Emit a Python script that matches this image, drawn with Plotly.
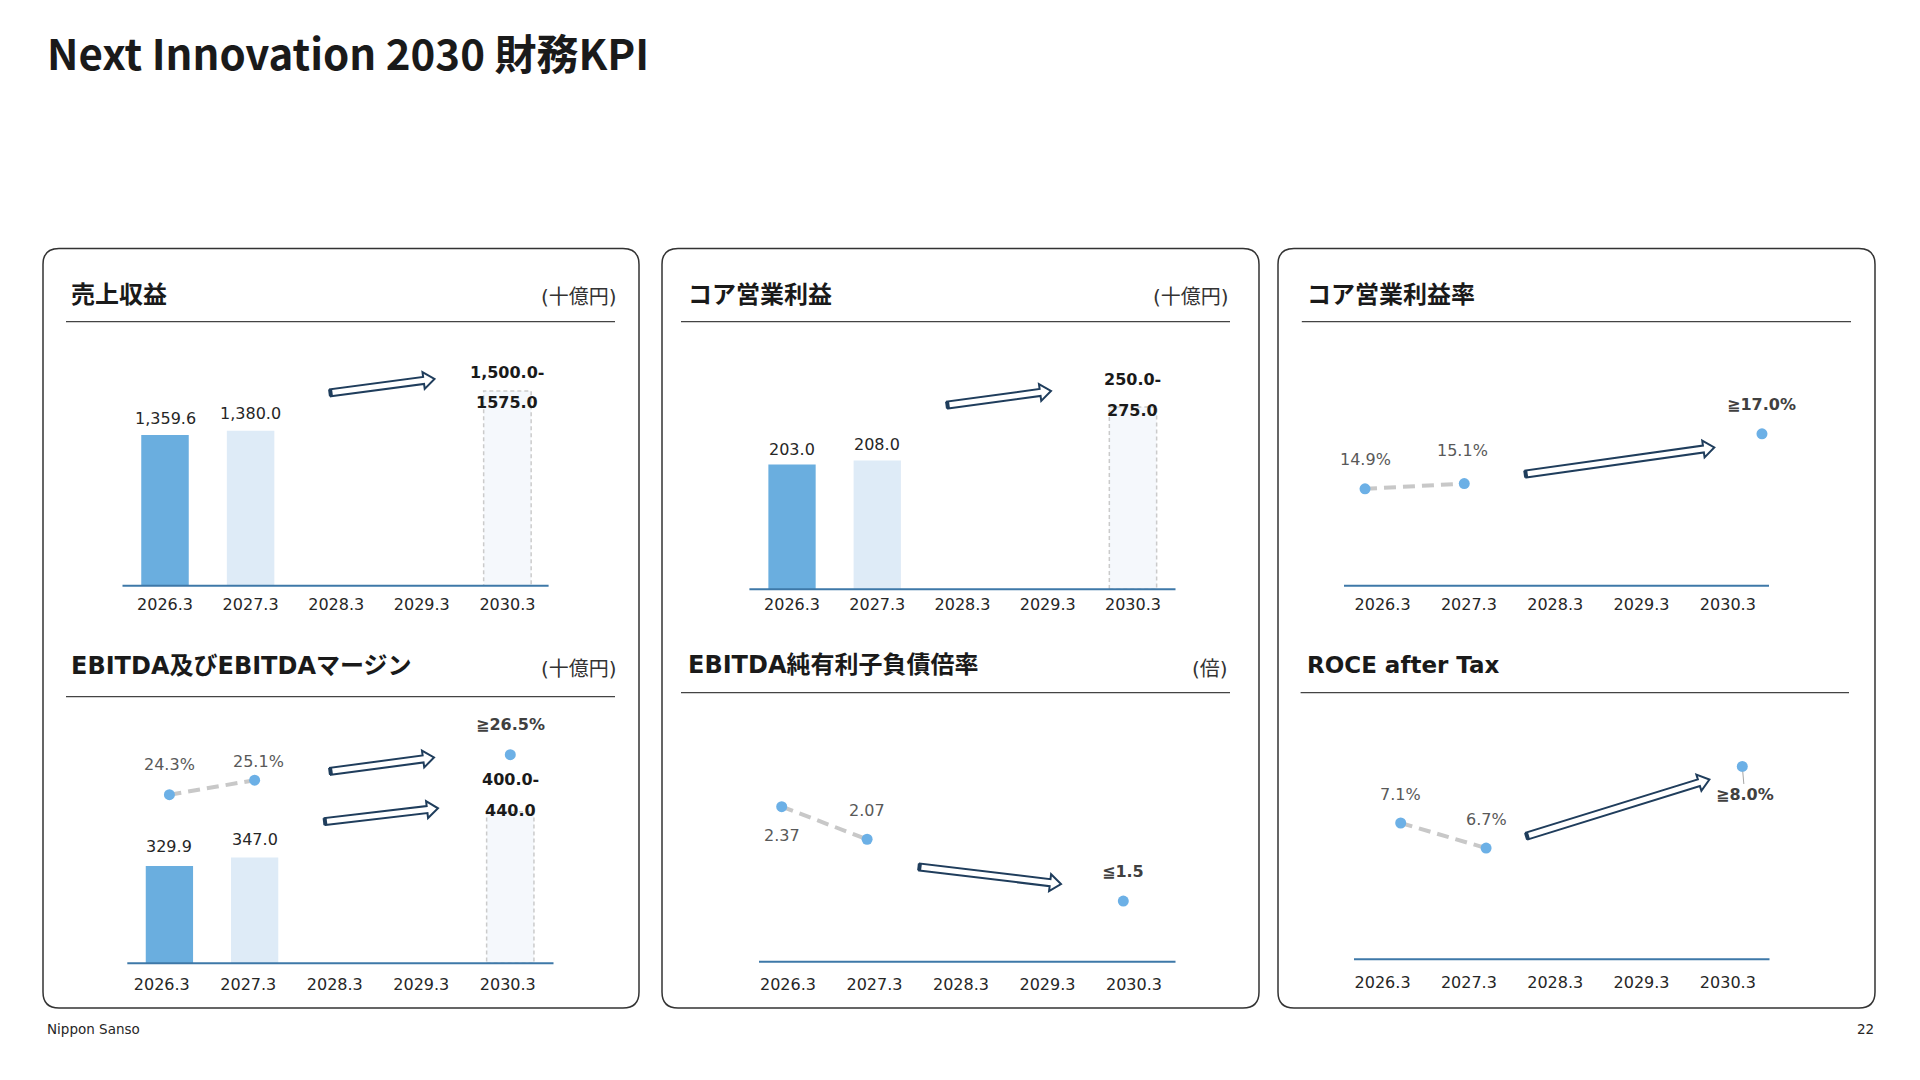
import math
import plotly.graph_objects as go

W, H = 1920, 1080

# ---------------- data ----------------
categories = ["2026.3", "2027.3", "2028.3", "2029.3", "2030.3"]

revenue = [1359.6, 1380.0, None, None, 1575.0]
revenue_target_text = ["1,500.0-", "1575.0"]

core_op_profit = [203.0, 208.0, None, None, 275.0]
core_op_target_text = ["250.0-", "275.0"]

ebitda = [329.9, 347.0, None, None, 440.0]
ebitda_target_text = ["400.0-", "440.0"]
ebitda_margin = [24.3, 25.1, None, None, 26.5]

net_debt_ratio = [2.37, 2.07, None, None, 1.5]
core_op_margin = [14.9, 15.1, None, None, 17.0]
roce_after_tax = [7.1, 6.7, None, None, 8.0]

titles = {
    "rev": "売上収益", "op": "コア営業利益", "opm": "コア営業利益率",
    "ebitda": "EBITDA及びEBITDAマージン", "nd": "EBITDA純有利子負債倍率", "roce": "ROCE after Tax",
}
unit_bn = "(十億円)"
unit_x = "(倍)"

# ---------------- style ----------------
FONT = "DejaVu Sans, Noto Sans CJK JP, sans-serif"
BAR_ACTUAL = "#6AAEDF"
BAR_PLAN = "#DEEBF7"
BAR_TARGET = "#F5F8FC"
TARGET_EDGE = "#CBCBCB"
AXIS = "#3E78A8"
DOT = "#6CB0E6"
CONNECT = "#C8C8C8"
ARROW = "#1F3D5C"
TXT = "#262626"
TXT_GRAY = "#595959"
N = len(categories)
LAST = N - 1


def xd(a, b):
    return [a / W, b / W]


def yd(top, bottom):
    return [1 - bottom / H, 1 - top / H]


def yr(v, p, k, top, bottom):
    """range so that value v sits at pixel p with k px per unit"""
    return [v - (bottom - p) / k, v + (p - top) / k]


def P(x, y):
    return f"{x / W:.6f},{1 - y / H:.6f}"


fig = go.Figure()
layout = {}
shapes = []
anns = []


def cat_axis(dom, anchor, ticklen=9, show=True):
    return dict(domain=xd(*dom), anchor=anchor, type="category", categoryorder="array",
                categoryarray=categories, range=[-0.5, N - 0.5], showgrid=False, zeroline=False,
                showline=False, ticks="outside" if show else "", ticklen=ticklen,
                tickcolor="rgba(0,0,0,0)", showticklabels=show, visible=show,
                tickfont=dict(size=16, color=TXT, family=FONT), fixedrange=True)


def tick_axis(dom, anchor, ticklen):
    return dict(domain=xd(*dom), anchor=anchor, type="linear", range=[-0.5, N - 0.5],
                tickmode="array", tickvals=list(range(N)), ticktext=categories,
                showgrid=False, zeroline=False, showline=False, ticks="outside", ticklen=ticklen,
                tickcolor="rgba(0,0,0,0)", tickfont=dict(size=16, color=TXT, family=FONT),
                fixedrange=True)


def y_axis(top, bottom, anchor, rng):
    return dict(domain=yd(top, bottom), anchor=anchor, range=rng, visible=False, fixedrange=True)


def axis_line(x0, x1, y):
    shapes.append(dict(type="line", xref="paper", yref="paper", x0=x0 / W, x1=x1 / W,
                       y0=1 - y / H, y1=1 - y / H, line=dict(color=AXIS, width=2), layer="above"))


def label(text, i, y, xr, yrf, yshift=0, xshift=0, color=TXT, bold=False, size=16, **kw):
    # x given as category serial number (category names look numeric)
    anns.append(dict(text=f"<b>{text}</b>" if bold else text, x=i, y=y, xref=xr, yref=yrf,
                     xanchor="center", yanchor="middle", yshift=yshift, xshift=xshift,
                     showarrow=kw.pop("showarrow", False),
                     font=dict(size=size, color=color, family=FONT), **kw))


def bars(values, xa, ya, rng):
    fig.add_trace(go.Bar(x=categories, y=values, width=0.555, xaxis=xa, yaxis=ya,
                         marker=dict(color=[BAR_ACTUAL, BAR_PLAN, BAR_PLAN, BAR_PLAN, BAR_TARGET],
                                     line=dict(width=0)),
                         showlegend=False, hoverinfo="skip"))
    shapes.append(dict(type="rect", xref=xa, yref=ya, x0=LAST - 0.2775, x1=LAST + 0.2775,
                       y0=rng[0], y1=values[LAST], fillcolor="rgba(0,0,0,0)",
                       line=dict(color=TARGET_EDGE, width=1.5, dash="4px,3px"), layer="above"))


def dots(values, xa, ya):
    fig.add_trace(go.Scatter(x=categories, y=values, xaxis=xa, yaxis=ya, mode="lines+markers",
                             line=dict(color=CONNECT, width=4, dash="12px,7px"),
                             marker=dict(color=DOT, size=11, line=dict(width=0)),
                             connectgaps=False, showlegend=False, hoverinfo="skip"))


def tick_holder(xa, ya):
    # empty trace so that the tick-label subplot is drawn
    fig.add_trace(go.Scatter(x=list(range(N)), y=[None] * N, xaxis=xa, yaxis=ya, mode="markers",
                             showlegend=False, hoverinfo="skip"))


# ---------- A: revenue ----------
rngA = yr(622, 585.7, 0.2043, 340, 585.7)
layout["xaxis"] = cat_axis((122.2, 550.2), "y", ticklen=4)
layout["yaxis"] = y_axis(340, 585.7, "x", rngA)
bars(revenue, "x", "y", rngA)
axis_line(122.5, 548.6, 585.7)
for i in (0, 1):
    label(f"{revenue[i]:,.1f}", i, revenue[i], "x", "y", yshift=17)
label(revenue_target_text[0], LAST, revenue[LAST], "x", "y", yshift=19, bold=True, color="#1A1A1A")
label(revenue_target_text[1], LAST, revenue[LAST], "x", "y", yshift=-11, bold=True, color="#1A1A1A")

# ---------- B: core operating profit ----------
rngB = yr(47, 589.3, 0.8, 340, 589.3)
layout["xaxis2"] = cat_axis((749.4, 1175.6), "y2", ticklen=0.5)
layout["yaxis2"] = y_axis(340, 589.3, "x2", rngB)
bars(core_op_profit, "x2", "y2", rngB)
axis_line(749.4, 1175.5, 589.3)
for i, s in ((0, 15.5), (1, 16)):
    label(f"{core_op_profit[i]:.1f}", i, core_op_profit[i], "x2", "y2", yshift=s)
label(core_op_target_text[0], LAST, core_op_profit[LAST], "x2", "y2", yshift=27, bold=True, color="#1A1A1A")
label(core_op_target_text[1], LAST, core_op_profit[LAST], "x2", "y2", yshift=-4, bold=True, color="#1A1A1A")

# ---------- C: EBITDA & margin ----------
rngC = yr(133, 963.3, 0.494, 700, 963.3)
rngCm = yr(24.3, 794.7, 18.18, 700, 963.3)
layout["xaxis3"] = cat_axis((126.8, 552.9), "y3", show=False)
layout["yaxis3"] = y_axis(700, 963.3, "x3", rngC)
layout["yaxis4"] = dict(overlaying="y3", anchor="x3", side="right", range=rngCm, visible=False, fixedrange=True)
layout["xaxis11"] = tick_axis((118.5, 551), "y11", ticklen=6)
layout["yaxis11"] = y_axis(700, 963.3, "x11", [0, 1])
tick_holder("x11", "y11")
bars(ebitda, "x3", "y3", rngC)
dots(ebitda_margin, "x3", "y4")
axis_line(127.3, 553.5, 963.3)
for i, s in ((0, 20), (1, 18)):
    label(f"{ebitda[i]:.1f}", i, ebitda[i], "x3", "y3", yshift=s)
label(ebitda_target_text[0], LAST, ebitda[LAST], "x3", "y3", yshift=32, bold=True, color="#1A1A1A")
label(ebitda_target_text[1], LAST, ebitda[LAST], "x3", "y3", yshift=1, bold=True, color="#1A1A1A")
label(f"{ebitda_margin[0]:.1f}%", 0, ebitda_margin[0], "x3", "y4", yshift=30, color=TXT_GRAY)
label(f"{ebitda_margin[1]:.1f}%", 1, ebitda_margin[1], "x3", "y4", yshift=18.5, xshift=4, color=TXT_GRAY)
label(f"≧{ebitda_margin[LAST]:.1f}%", LAST, ebitda_margin[LAST], "x3", "y4", yshift=30, bold=True, color="#404040")

# ---------- D: net debt / EBITDA ----------
rngD = yr(2.37, 806.7, 108.5, 700, 961.7)
layout["xaxis5"] = tick_axis((744.7, 1177.2), "y5", ticklen=8)
layout["yaxis5"] = y_axis(700, 961.7, "x5", [0, 1])
layout["xaxis6"] = cat_axis((739, 1166), "y6", show=False)
layout["yaxis6"] = y_axis(700, 961.7, "x6", rngD)
tick_holder("x5", "y5")
dots(net_debt_ratio, "x6", "y6")
axis_line(759, 1175.5, 961.7)
label(f"{net_debt_ratio[0]:.2f}", 0, net_debt_ratio[0], "x6", "y6", yshift=-29, color=TXT_GRAY)
label(f"{net_debt_ratio[1]:.2f}", 1, net_debt_ratio[1], "x6", "y6", yshift=28.6, color=TXT_GRAY)
label(f"≦{net_debt_ratio[LAST]:.1f}", LAST, net_debt_ratio[LAST], "x6", "y6", yshift=30, bold=True, color="#404040")

# ---------- E: core operating margin ----------
rngE = yr(14.9, 488.8, 26.2, 340, 585.7)
layout["xaxis7"] = tick_axis((1339.4, 1771), "y7", ticklen=4)
layout["yaxis7"] = y_axis(340, 585.7, "x7", [0, 1])
layout["xaxis8"] = cat_axis((1315.4, 1811.6), "y8", show=False)
layout["yaxis8"] = y_axis(340, 585.7, "x8", rngE)
tick_holder("x7", "y7")
dots(core_op_margin, "x8", "y8")
axis_line(1344, 1769, 585.7)
label(f"{core_op_margin[0]:.1f}%", 0, core_op_margin[0], "x8", "y8", yshift=29, color=TXT_GRAY)
label(f"{core_op_margin[1]:.1f}%", 1, core_op_margin[1], "x8", "y8", yshift=32.7, xshift=-1.5, color=TXT_GRAY)
label(f"≧{core_op_margin[LAST]:.1f}%", LAST, core_op_margin[LAST], "x8", "y8", yshift=29.7, bold=True, color="#404040")

# ---------- F: ROCE after tax ----------
rngF = yr(7.1, 823, 62.8, 700, 959.3)
layout["xaxis9"] = tick_axis((1339.4, 1771), "y9", ticklen=8)
layout["yaxis9"] = y_axis(700, 959.3, "x9", [0, 1])
layout["xaxis10"] = cat_axis((1358, 1785), "y10", show=False)
layout["yaxis10"] = y_axis(700, 959.3, "x10", rngF)
tick_holder("x9", "y9")
dots(roce_after_tax, "x10", "y10")
axis_line(1354, 1769.5, 959.3)
label(f"{roce_after_tax[0]:.1f}%", 0, roce_after_tax[0], "x10", "y10", yshift=29, color=TXT_GRAY)
label(f"{roce_after_tax[1]:.1f}%", 1, roce_after_tax[1], "x10", "y10", yshift=29, color=TXT_GRAY)
label(f"≧{roce_after_tax[LAST]:.1f}%", LAST, roce_after_tax[LAST], "x10", "y10", bold=True, color="#404040",
      showarrow=True, ax=2.5, ay=28.5, arrowhead=0, arrowwidth=1, arrowcolor="#A6A6A6", standoff=5)


# ---------- panels, headers, separators ----------
def rounded_rect(x0, y0, x1, y1, r):
    return (f"M {P(x0 + r, y0)} L {P(x1 - r, y0)} Q {P(x1, y0)} {P(x1, y0 + r)} "
            f"L {P(x1, y1 - r)} Q {P(x1, y1)} {P(x1 - r, y1)} L {P(x0 + r, y1)} "
            f"Q {P(x0, y1)} {P(x0, y1 - r)} L {P(x0, y0 + r)} Q {P(x0, y0)} {P(x0 + r, y0)} Z")


for (x0, x1) in ((43, 639), (662, 1259), (1278, 1875)):
    shapes.append(dict(type="path", xref="paper", yref="paper", path=rounded_rect(x0, 248.5, x1, 1008, 16),
                       line=dict(color="#333333", width=1.5), fillcolor="rgba(0,0,0,0)", layer="below"))

for (x0, x1, y) in ((66, 615, 321.7), (681, 1230, 321.7), (1301.8, 1851, 321.7),
                    (66, 615, 696.7), (681, 1230, 692.7), (1300.6, 1849, 692.7)):
    shapes.append(dict(type="line", xref="paper", yref="paper", x0=x0 / W, x1=x1 / W,
                       y0=1 - y / H, y1=1 - y / H, line=dict(color="#444444", width=1.3)))


def text_at(text, x, y, size, color, bold=False, xanchor="left", family=FONT):
    anns.append(dict(text=f"<b>{text}</b>" if bold else text, x=x / W, y=1 - y / H, xref="paper",
                     yref="paper", xanchor=xanchor, yanchor="middle", showarrow=False,
                     font=dict(size=size, color=color, family=family)))


text_at(titles["rev"], 69, 295, 24, "#1A1A1A", bold=True)
text_at(titles["op"], 686, 295, 24, "#1A1A1A", bold=True)
text_at(titles["opm"], 1305, 295, 24, "#1A1A1A", bold=True)
text_at(titles["ebitda"], 69, 666, 24, "#1A1A1A", bold=True)
text_at(titles["nd"], 686, 665, 24, "#1A1A1A", bold=True)
text_at(titles["roce"], 1305, 665, 23, "#1A1A1A", bold=True)
text_at(unit_bn, 619, 297, 20, "#333333", xanchor="right")
text_at(unit_bn, 1231, 297, 20, "#333333", xanchor="right")
text_at(unit_bn, 619, 669, 20, "#333333", xanchor="right")
text_at(unit_x, 1230, 669, 20, "#333333", xanchor="right")

text_at("Next Innovation 2030 財務KPI", 45, 51.5, 42, "#1A1A1A", bold=True,
        family="Noto Sans CJK JP, DejaVu Sans, sans-serif")
text_at("Nippon Sanso", 45, 1029, 13.5, TXT)
text_at("22", 1876, 1029, 13.5, TXT, xanchor="right")


# ---------- block arrows ----------
def block_arrow(tail, tip, sw=7, hw=17, hl=11):
    dx, dy = tip[0] - tail[0], tip[1] - tail[1]
    L = math.hypot(dx, dy)
    ux, uy = dx / L, dy / L
    nx, ny = -uy, ux
    nk = (tip[0] - ux * hl, tip[1] - uy * hl)
    pts = [(tail[0] + nx * sw / 2, tail[1] + ny * sw / 2), (nk[0] + nx * sw / 2, nk[1] + ny * sw / 2),
           (nk[0] + nx * hw / 2, nk[1] + ny * hw / 2), tip,
           (nk[0] - nx * hw / 2, nk[1] - ny * hw / 2), (nk[0] - nx * sw / 2, nk[1] - ny * sw / 2),
           (tail[0] - nx * sw / 2, tail[1] - ny * sw / 2)]
    shapes.append(dict(type="path", xref="paper", yref="paper",
                       path="M " + " L ".join(P(*p) for p in pts) + " Z",
                       line=dict(color=ARROW, width=2), fillcolor="white", layer="above"))
    a, b = pts[0], pts[-1]
    shapes.append(dict(type="path", xref="paper", yref="paper", path=f"M {P(*a)} L {P(*b)}",
                       line=dict(color=ARROW, width=4), layer="above"))


for tail, tip in (((330.5, 392.8), (434.5, 379)), ((947.5, 405), (1051, 391)),
                  ((330.5, 771.3), (434, 757.5)), ((325, 821.5), (438, 808.3)),
                  ((919.5, 867), (1061, 884)), ((1525.7, 474), (1714.3, 447.5)),
                  ((1527, 836), (1709.4, 779.5))):
    block_arrow(tail, tip)

fig.update_layout(
    width=W, height=H, margin=dict(l=0, r=0, t=0, b=0, pad=0),
    paper_bgcolor="white", plot_bgcolor="rgba(0,0,0,0)",
    font=dict(family=FONT, color=TXT), showlegend=False, barmode="overlay",
    shapes=shapes, annotations=anns, hovermode=False, **layout,
)

fig.write_html("out.html", config={"displayModeBar": False},
               post_script="document.body.style.margin='0';document.body.style.overflow='hidden';")
